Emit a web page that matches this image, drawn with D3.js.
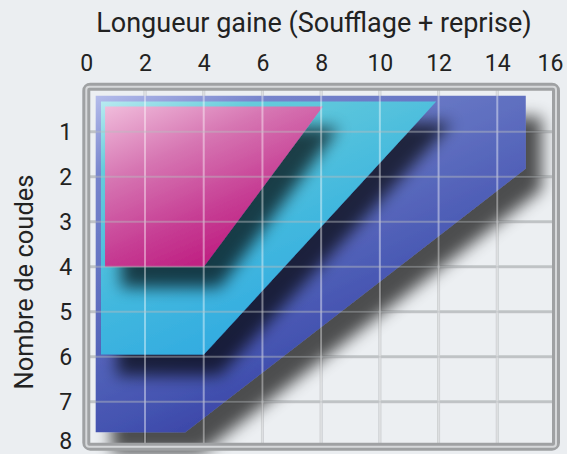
<!DOCTYPE html>
<html><head><meta charset="utf-8">
<script src="https://cdn.jsdelivr.net/npm/d3@7"></script>
<style>html,body{margin:0;padding:0;background:#ebeef1;} svg{display:block;font-family:Roboto, sans-serif;}</style>
</head><body><svg id="c" width="567" height="454"></svg>
<script>
// ---- data ----
const xTicks = [0, 2, 4, 6, 8, 10, 12, 14, 16];
const yTicks = [1, 2, 3, 4, 5, 6, 7, 8];
const xTitle = "Longueur gaine (Soufflage + reprise)";
const yTitle = "Nombre de coudes";
const seriesNames = ["bleu", "cyan", "rose"];
// polygon vertices: x = length (m), y = number of elbows
const blueX = [0.32, 14.97, 14.97, 3.37, 0.32];
const blueY = [0.20, 0.20, 1.82, 7.68, 7.68];
const cyanX = [0.50, 11.92, 4.00, 0.50];
const cyanY = [0.33, 0.33, 5.95, 5.95];
const pinkX = [0.64, 8.06, 4.00, 0.64];
const pinkY = [0.44, 0.44, 4.00, 4.00];

const seriesX = [blueX, cyanX, pinkX];
const seriesY = [blueY, cyanY, pinkY];
const gradStops = [
  [[0, "#b4bceb"], [0.18, "#7684cc"], [0.45, "#5f6fc0"], [0.75, "#4352b0"], [1, "#30339a"]],
  [[0, "#b8eaf0"], [0.2, "#66cbdb"], [0.6, "#42b8de"], [1, "#2ba6e2"]],
  [[0, "#f0bcdb"], [0.35, "#d675b2"], [0.7, "#c63c93"], [1, "#bd167c"]]
];

const svg = d3.select("#c");
const x = d3.scaleLinear().domain([0, 16]).range([86.3, 556]);
const y = d3.scaleLinear().domain([0, 8]).range([86.7, 446.7]);

const defs = svg.append("defs");
const f = defs.append("filter").attr("id", "shadow")
  .attr("x", "-20%").attr("y", "-20%").attr("width", "160%").attr("height", "160%");
f.append("feGaussianBlur").attr("in", "SourceAlpha").attr("stdDeviation", 8).attr("result", "b");
f.append("feOffset").attr("in", "b").attr("dx", 16).attr("dy", 21).attr("result", "o");
f.append("feComponentTransfer").attr("in", "o").attr("result", "s")
  .append("feFuncA").attr("type", "linear").attr("slope", 0.68);
const m = f.append("feMerge");
m.append("feMergeNode").attr("in", "s");
m.append("feMergeNode").attr("in", "SourceGraphic");

seriesNames.forEach((n, i) => {
  const g = defs.append("linearGradient").attr("id", "g-" + n)
    .attr("x1", 0).attr("y1", 0).attr("x2", 0.6).attr("y2", 1);
  gradStops[i].forEach(s => g.append("stop").attr("offset", s[0]).attr("stop-color", s[1]));
});

// background of plot
svg.append("rect").attr("x", x(0)).attr("y", y(0)).attr("width", x(16) - x(0)).attr("height", y(8) - y(0))
  .attr("fill", "#eceff2");

// grid under (gray)
const gridV = xTicks.slice(1, -1), gridH = yTicks.slice(0, -1);
const gUnder = svg.append("g").attr("stroke", "#c5c8cb").attr("stroke-width", 3);
gUnder.selectAll("line.v").data(gridV).join("line").attr("class", "v")
  .attr("x1", d => x(d)).attr("x2", d => x(d)).attr("y1", y(0)).attr("y2", y(8));
gUnder.selectAll("line.h").data(gridH).join("line").attr("class", "h")
  .attr("x1", x(0)).attr("x2", x(16)).attr("y1", d => y(d)).attr("y2", d => y(d));

// polygons
const line = d3.line();
seriesNames.forEach((n, i) => {
  const pts = seriesX[i].map((v, k) => [x(v), y(seriesY[i][k])]);
  svg.append("path").attr("d", line(pts) + "Z").attr("fill", "url(#g-" + n + ")")
    .attr("filter", "url(#shadow)");
});

// grid over (light)
const gOver = svg.append("g").attr("stroke", "#ffffff").attr("stroke-opacity", 0.42).attr("stroke-width", 2);
gOver.selectAll("line.v").data(gridV).join("line").attr("class", "v")
  .attr("x1", d => x(d)).attr("x2", d => x(d)).attr("y1", y(0)).attr("y2", y(8));
const gOverH = svg.append("g").attr("stroke", "#b9bcbf").attr("stroke-opacity", 0.45).attr("stroke-width", 2);
gOverH.selectAll("line.h").data(gridH).join("line").attr("class", "h")
  .attr("x1", x(0)).attr("x2", x(16)).attr("y1", d => y(d)).attr("y2", d => y(d));

// frame
svg.append("rect").attr("x", x(0)).attr("y", y(0)).attr("width", x(16) - x(0)).attr("height", y(8) - y(0))
  .attr("rx", 4).attr("fill", "none").attr("stroke", "#9fa1a3").attr("stroke-width", 8);
svg.append("rect").attr("x", x(0)).attr("y", y(0)).attr("width", x(16) - x(0)).attr("height", y(8) - y(0))
  .attr("rx", 3).attr("fill", "none").attr("stroke", "#d6d8da").attr("stroke-width", 2);

// axes
const xAxis = svg.append("g").attr("transform", `translate(0,${y(0) - 16})`)
  .call(d3.axisTop(x).tickValues(xTicks).tickSize(0).tickPadding(0));
xAxis.select(".domain").remove();
xAxis.selectAll("text").attr("font-size", 23).attr("fill", "#222").attr("font-family", "Roboto")
  .attr("dx", d => d === 16 ? -6 : 0);

const yAxis = svg.append("g").attr("transform", `translate(${x(0) - 14},0)`)
  .call(d3.axisLeft(y).tickValues(yTicks).tickSize(0).tickPadding(0));
yAxis.select(".domain").remove();
yAxis.selectAll("text").attr("font-size", 23).attr("fill", "#222").attr("font-family", "Roboto")
  .attr("y", d => d === 8 ? -6 : 0);

svg.append("text").attr("x", 314).attr("y", 32).attr("text-anchor", "middle")
  .attr("font-size", 27).attr("fill", "#222").text(xTitle);
svg.append("text").attr("transform", "translate(33,282) rotate(-90)").attr("text-anchor", "middle")
  .attr("font-size", 25.5).attr("fill", "#222").text(yTitle);
</script></body></html>
